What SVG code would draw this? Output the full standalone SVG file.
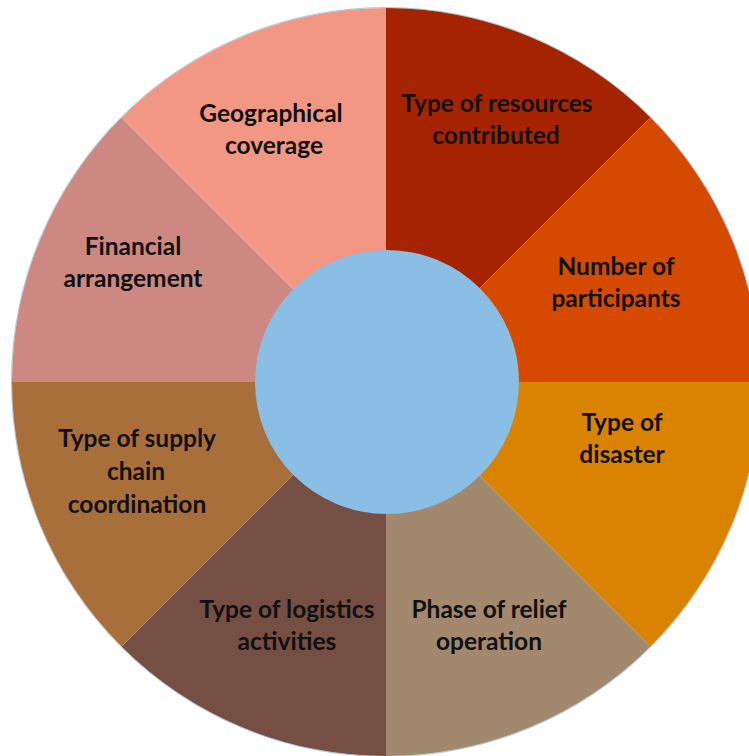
<svg xmlns="http://www.w3.org/2000/svg" width="749" height="756" viewBox="0 0 749 756">
<style>
.lbl{font-family:Lato,"Open Sans","Liberation Sans",sans-serif;font-weight:700;font-size:24.5px;fill:#111;text-anchor:middle}
.sec{stroke:none}
</style>
<rect width="749" height="756" fill="#fff"/>
<g id="ring">
<circle cx="386" cy="382" r="374.5" fill="none" stroke="#a9c8e0" stroke-width="1"/>
<g id="n-resources"><path class="sec" fill="#A62300" d="M386 382 L386 8 A374 374 0 0 1 650.46 117.54 Z"/>
<text class="lbl" x="497" y="112">Type of resources</text><text class="lbl" x="496" y="144">contributed</text></g>
<g id="n-participants"><path class="sec" fill="#D64A00" d="M386 382 L650.46 117.54 A374 374 0 0 1 760 382 Z"/>
<text class="lbl" x="616" y="275">Number of</text><text class="lbl" x="616" y="307">participants</text></g>
<g id="n-disaster"><path class="sec" fill="#D98300" d="M386 382 L760 382 A374 374 0 0 1 650.46 646.46 Z"/>
<text class="lbl" x="622" y="431">Type of</text><text class="lbl" x="622" y="463">disaster</text></g>
<g id="n-phase"><path class="sec" fill="#A2886C" d="M386 382 L650.46 646.46 A374 374 0 0 1 386 756 Z"/>
<text class="lbl" x="489" y="618">Phase of relief</text><text class="lbl" x="489" y="650">operation</text></g>
<g id="n-logistics"><path class="sec" fill="#754E44" d="M386 382 L386 756 A374 374 0 0 1 121.54 646.46 Z"/>
<text class="lbl" x="287" y="618">Type of logistics</text><text class="lbl" x="287" y="650">activities</text></g>
<g id="n-supply"><path class="sec" fill="#A96F3A" d="M386 382 L121.54 646.46 A374 374 0 0 1 12 382 Z"/>
<text class="lbl" x="137" y="447">Type of supply</text><text class="lbl" x="136" y="480">chain</text><text class="lbl" x="137" y="513">coordination</text></g>
<g id="n-financial"><path class="sec" fill="#CD8981" d="M386 382 L12 382 A374 374 0 0 1 121.54 117.54 Z"/>
<text class="lbl" x="133" y="255">Financial</text><text class="lbl" x="133" y="287">arrangement</text></g>
<g id="n-geo"><path class="sec" fill="#F29783" d="M386 382 L121.54 117.54 A374 374 0 0 1 386 8 Z"/>
<text class="lbl" x="271" y="122">Geographical</text><text class="lbl" x="274" y="154">coverage</text></g>
</g>
<g id="connectors"/>
<g id="n-center"><circle cx="387" cy="382" r="132" fill="#8BBEE5"/></g>
</svg>
